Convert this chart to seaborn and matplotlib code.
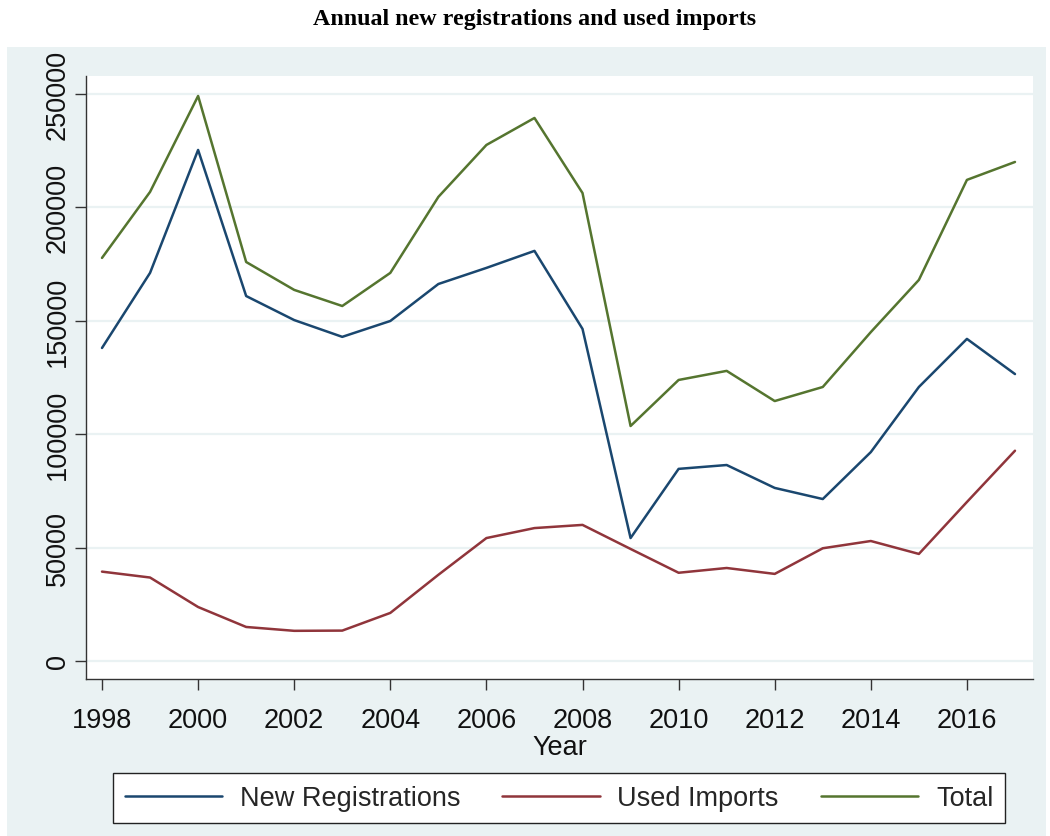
import matplotlib
matplotlib.use("Agg")
import matplotlib.pyplot as plt
from matplotlib.patches import Rectangle
import seaborn as sns
import pandas as pd

years = list(range(1998, 2018))
new_registrations = [138000, 171100, 225300, 160900, 150300, 142900, 149900, 166200,
                     173300, 180800, 146400, 54200, 84700, 86400, 76300, 71400,
                     92100, 120800, 142000, 126500]
used_imports = [39400, 36800, 23800, 15000, 13300, 13400, 21200, 38000,
                54200, 58600, 60000, 49400, 38900, 41000, 38400, 49700,
                52900, 47200, 70100, 92700]
total = [177700, 206800, 249100, 175900, 163600, 156500, 171100, 204600,
         227500, 239400, 206300, 103600, 123900, 127900, 114600, 120800,
         145000, 168000, 212100, 220000]
series_names = ["New Registrations", "Used Imports", "Total"]
series_colors = ["#1a476f", "#90353b", "#55752f"]
y_ticks = [0, 50000, 100000, 150000, 200000, 250000]
x_ticks = list(range(1998, 2017, 2))

df = pd.concat([
    pd.DataFrame({"Year": years, "value": vals, "series": name})
    for name, vals in zip(series_names, [new_registrations, used_imports, total])
])

sns.set_theme(style="white")
plt.rcParams["font.family"] = ["Liberation Sans", "DejaVu Sans"]

fig = plt.figure(figsize=(10.5, 8.37), dpi=100)
fig.patch.set_facecolor("white")
fig.add_artist(Rectangle((7 / 1050, 0), 1039 / 1050, 1 - 48 / 837,
                         transform=fig.transFigure, facecolor="#eaf2f3",
                         edgecolor="none", zorder=0))

ax = fig.add_axes([86 / 1050, 1 - 680 / 837, (1033 - 86) / 1050, (680 - 77) / 837])
ax.set_facecolor("white")

sns.lineplot(data=df, x="Year", y="value", hue="series", hue_order=series_names,
             palette=series_colors, linewidth=1.8, ax=ax, legend=False)

ax.set_xlim(1997.667, 2017.375)
ax.set_ylim(-7936, 257900)
ax.set_xticks(x_ticks)
ax.set_yticks(y_ticks)
ax.set_yticklabels([str(v) for v in y_ticks], rotation=90, va="center")
ax.yaxis.grid(True, color="#eaf2f3", linewidth=1.6)
ax.xaxis.grid(False)
ax.set_axisbelow(True)

for side in ["top", "right"]:
    ax.spines[side].set_visible(False)
for side in ["left", "bottom"]:
    ax.spines[side].set_color("#333333")
    ax.spines[side].set_linewidth(1.0)

ax.tick_params(axis="both", which="major", bottom=True, left=True, direction="out",
               length=8, width=1.0, color="#333333", labelsize=19.5,
               labelcolor="#111111")
ax.tick_params(axis="x", pad=12)
ax.tick_params(axis="y", pad=3)
ax.set_xlabel("Year", fontsize=19.5, color="#111111", labelpad=1)
ax.set_ylabel("")

fig.text(535 / 1050, 1 - 20 / 837, "Annual new registrations and used imports",
         ha="center", va="center", fontsize=17.3, fontweight="bold",
         family=["Liberation Serif", "DejaVu Serif"], color="black")

handles = [plt.Line2D([], [], color=c, linewidth=1.8) for c in series_colors]
leg = fig.legend(handles, series_names, loc="center",
                 bbox_to_anchor=(559 / 1050, 1 - 799 / 837), ncol=3,
                 fontsize=19.5, frameon=True, fancybox=False, framealpha=1.0,
                 handlelength=3.6, columnspacing=1.55, handletextpad=0.65,
                 borderpad=0.45, borderaxespad=0)
leg.get_frame().set_edgecolor("#222222")
leg.get_frame().set_linewidth(1.0)
leg.get_frame().set_facecolor("white")

fig.savefig("out.png", dpi=100)
